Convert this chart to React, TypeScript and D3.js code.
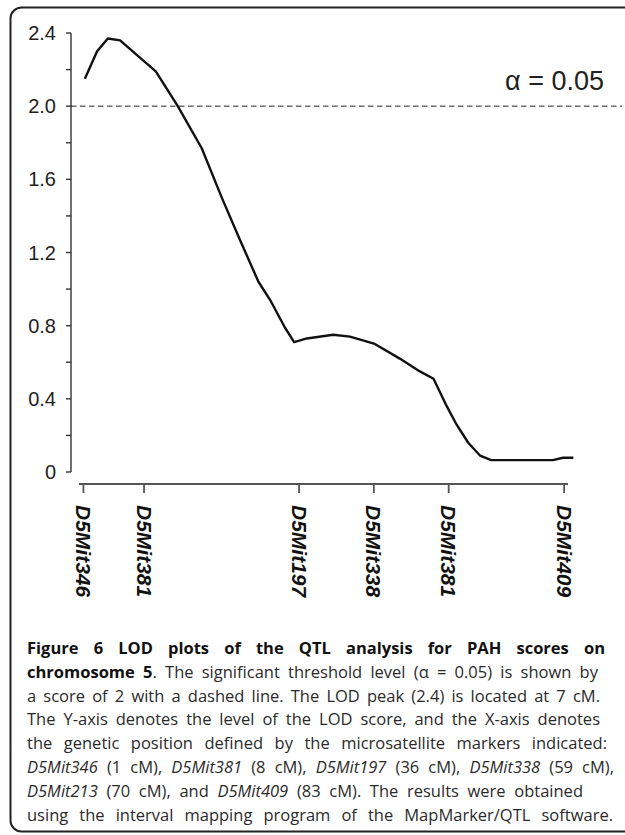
import React, { useEffect, useRef } from "react";
import { select, scaleLinear, line } from "d3";

// marker names on the x axis (as printed on the chart) and their positions on the map axis
const markerNames = ["D5Mit346", "D5Mit381", "D5Mit197", "D5Mit338", "D5Mit381", "D5Mit409"];
const markerPos = [0.9, 13.3, 45.0, 60.3, 75.6, 99.2];

// LOD profile
const lodPos = [
  1.2, 3.7, 5.9, 8.4, 13.1, 15.7, 20.2, 25.1, 29.2, 32.9, 36.7, 39.1, 42.1, 44.0,
  46.6, 52.0, 55.4, 60.5, 65.6, 69.7, 72.5, 75.2, 77.2, 79.6, 82.0, 84.3, 96.9, 99.0, 101.1,
];
const lodScore = [
  2.15, 2.3, 2.37, 2.36, 2.25, 2.19, 2.0, 1.77, 1.5, 1.27, 1.04, 0.94, 0.79, 0.71,
  0.73, 0.75, 0.74, 0.7, 0.62, 0.55, 0.51, 0.36, 0.26, 0.16, 0.09, 0.065, 0.065, 0.078, 0.078,
];

const yTicks = [0, 0.4, 0.8, 1.2, 1.6, 2.0, 2.4];
const yMinorTicks = [0.2, 0.6, 1.0, 1.4, 1.8, 2.2];
const threshold = 2.0;
const thresholdLabel = "α = 0.05";

// caption lines: [text, style] segments (b = bold, i = italic, n = normal)
const captionLines: [string, string][][] = [
  [["Figure 6 LOD plots of the QTL analysis for PAH scores on", "b"]],
  [["chromosome 5", "b"], [". The significant threshold level (α = 0.05) is shown by", "n"]],
  [["a score of 2 with a dashed line. The LOD peak (2.4) is located at 7 cM.", "n"]],
  [["The Y-axis denotes the level of the LOD score, and the X-axis denotes", "n"]],
  [["the genetic position defined by the microsatellite markers indicated:", "n"]],
  [
    ["D5Mit346", "i"], [" (1 cM), ", "n"], ["D5Mit381", "i"], [" (8 cM), ", "n"],
    ["D5Mit197", "i"], [" (36 cM), ", "n"], ["D5Mit338", "i"], [" (59 cM),", "n"],
  ],
  [["D5Mit213", "i"], [" (70 cM), and ", "n"], ["D5Mit409", "i"], [" (83 cM). The results were obtained", "n"]],
  [["using the interval mapping program of the MapMarker/QTL software.", "n"]],
];
const captionRight = [605, 598, 600, 600, 607, 614, 583, 613];

const W = 625;
const H = 835;

export default function App() {
  const ref = useRef<SVGSVGElement>(null);

  useEffect(() => {
    const svg = select(ref.current);
    svg.selectAll("*").remove();

    const x = scaleLinear().domain([0, 100]).range([79, 568]);
    const y = scaleLinear().domain([0, 2.4]).range([472, 33]);
    const axisColor = "#333";

    // frame round the figure
    svg
      .append("rect")
      .attr("x", 10.5)
      .attr("y", 7.5)
      .attr("width", 640)
      .attr("height", 824)
      .attr("rx", 11)
      .attr("fill", "none")
      .attr("stroke", "#222")
      .attr("stroke-width", 2);

    // y axis
    const yAxisX = 71;
    const g = svg.append("g");
    g.append("line")
      .attr("x1", yAxisX).attr("x2", yAxisX)
      .attr("y1", y(0)).attr("y2", y(2.4))
      .attr("stroke", axisColor).attr("stroke-width", 1.4);
    g.selectAll(".ytick")
      .data([...yTicks, ...yMinorTicks])
      .enter()
      .append("line")
      .attr("x1", yAxisX - 5).attr("x2", yAxisX)
      .attr("y1", (d) => y(d)).attr("y2", (d) => y(d))
      .attr("stroke", axisColor).attr("stroke-width", 1.4);
    g.selectAll(".ylab")
      .data(yTicks)
      .enter()
      .append("text")
      .attr("x", 56)
      .attr("y", (d) => y(d))
      .attr("text-anchor", "end")
      .attr("dominant-baseline", "central")
      .attr("font-family", "'Liberation Sans', Arial, sans-serif")
      .attr("font-size", 20)
      .attr("fill", "#222")
      .text((d) => (d === 0 ? "0" : d.toFixed(1)));

    // x axis (markers)
    const xAxisY = 484;
    g.append("line")
      .attr("x1", x(0)).attr("x2", x(100))
      .attr("y1", xAxisY).attr("y2", xAxisY)
      .attr("stroke", "#555").attr("stroke-width", 1.8);
    g.selectAll(".xtick")
      .data(markerPos)
      .enter()
      .append("line")
      .attr("x1", (d) => x(d)).attr("x2", (d) => x(d))
      .attr("y1", xAxisY).attr("y2", xAxisY + 9)
      .attr("stroke", "#555").attr("stroke-width", 1.8);
    g.selectAll(".xlab")
      .data(markerNames)
      .enter()
      .append("text")
      .attr("transform", (d, i) => `translate(${x(markerPos[i])},505) rotate(90)`)
      .attr("text-anchor", "start")
      .attr("dominant-baseline", "central")
      .attr("font-family", "'Liberation Sans', Arial, sans-serif")
      .attr("font-size", 21)
      .attr("font-weight", "bold")
      .attr("font-style", "italic")
      .attr("fill", "#111")
      .text((d) => d);

    // threshold line and label
    g.append("line")
      .attr("x1", yAxisX).attr("x2", 622)
      .attr("y1", y(threshold)).attr("y2", y(threshold))
      .attr("stroke", "#222").attr("stroke-width", 1)
      .attr("stroke-dasharray", "5.5,3.5");
    g.append("text")
      .attr("x", 604)
      .attr("y", 90)
      .attr("text-anchor", "end")
      .attr("font-family", "'Liberation Sans', Arial, sans-serif")
      .attr("font-size", 27)
      .attr("fill", "#222")
      .text(thresholdLabel);

    // LOD curve
    const pts = lodPos.map((p, i) => [p, lodScore[i]] as [number, number]);
    const path = line<[number, number]>()
      .x((d) => x(d[0]))
      .y((d) => y(d[1]));
    g.append("path")
      .attr("d", path(pts))
      .attr("fill", "none")
      .attr("stroke", "#111")
      .attr("stroke-width", 2.4)
      .attr("stroke-linejoin", "round");

    // caption, justified line by line
    const cap = svg.append("g");
    captionLines.forEach((segs, i) => {
      const t = cap
        .append("text")
        .attr("x", 27)
        .attr("y", 654 + i * 23.8)
        .attr("font-family", "'Open Sans', 'Noto Sans', sans-serif")
        .attr("font-size", 16.5)
        .attr("fill", "#2a2a2a");
      segs.forEach(([s, st]) => {
        t.append("tspan")
          .attr("font-weight", st === "b" ? "bold" : "normal")
          .attr("font-style", st === "i" ? "italic" : "normal")
          .attr("fill", st === "b" ? "#111" : null)
          .text(s);
      });
      const node = t.node() as SVGTextElement;
      const natural = node.getComputedTextLength();
      const full = segs.map((s) => s[0]).join("");
      const spaces = (full.match(/ /g) || []).length;
      const ws = (captionRight[i] - 27 - natural) / spaces;
      t.attr("word-spacing", ws);
    });
  }, []);

  return (
    <svg
      ref={ref}
      width={W}
      height={H}
      style={{ position: "absolute", left: 0, top: 0, background: "#fff" }}
    />
  );
}
